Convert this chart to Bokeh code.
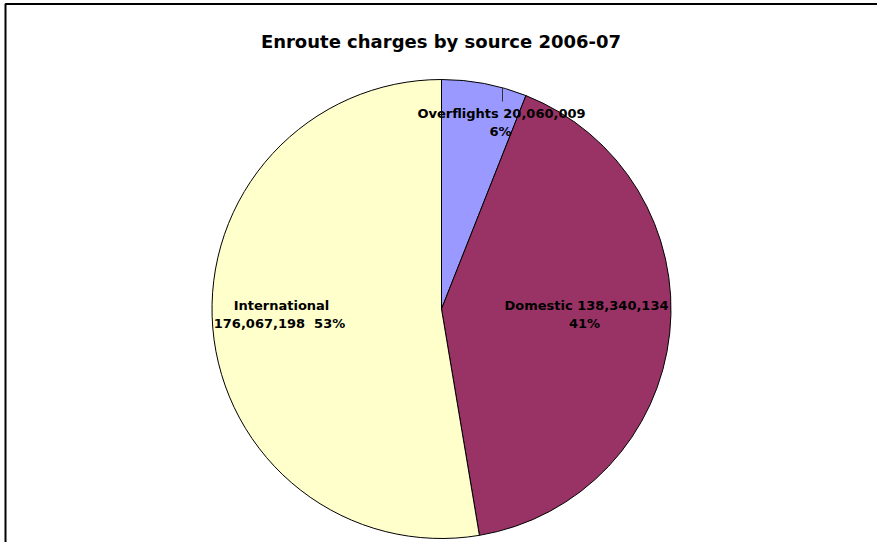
import math
from bokeh.plotting import figure
from bokeh.models import Range1d, ColumnDataSource
from bokeh.core.properties import value
from bokeh.embed import file_html
from bokeh.resources import INLINE

# ---- data ----
categories = ["Overflights", "Domestic", "International"]
amounts = [20060009, 138340134, 176067198]
colors = ["#9999FF", "#993366", "#FFFFCC"]
title_text = "Enroute charges by source 2006-07"

W, H = 877, 542
p = figure(width=W, height=H, output_backend="svg", toolbar_location=None,
           x_range=Range1d(0, W), y_range=Range1d(0, H),
           x_axis_location=None, y_axis_location=None, min_border=0)
p.grid.visible = False
p.outline_line_color = None
p.background_fill_color = "white"
p.border_fill_color = "white"

def Y(py):
    return H - py

cx, cy, r = 441, Y(308.5), 229.5
total = float(sum(amounts))
fr = [a / total for a in amounts]
cum = [0.0]
for f in fr:
    cum.append(cum[-1] + f)
starts = [math.pi / 2 - 2 * math.pi * cum[i + 1] for i in range(len(fr))]
ends = [math.pi / 2 - 2 * math.pi * cum[i] for i in range(len(fr))]

src = ColumnDataSource(dict(x=[cx] * 3, y=[cy] * 3, s=starts, e=ends, c=colors))
p.wedge(x="x", y="y", radius=r, start_angle="s", end_angle="e",
        fill_color="c", line_color="black", line_width=1, source=src)

# leader line for overflights
lx = 502
ly_top = cy + math.sqrt(r * r - (lx - cx) ** 2)
p.segment(x0=[lx], y0=[ly_top], x1=[lx], y1=[Y(101)], line_color="#333333", line_width=1)

def fmt(v):
    return f"{v:,}"

pct = [f"{round(f * 100)}%" for f in fr]
nb = "\u00a0"
labels = [
    [(f"{categories[0]} {fmt(amounts[0])}", 501, 113), (pct[0], 500, 131)],
    [(f"{categories[1]} {fmt(amounts[1])}", 586, 305), (pct[1], 584, 323)],
    [(categories[2], 281, 305), (f"{fmt(amounts[2])}{nb}{nb}{pct[2]}", 279, 323)],
]
for grp in labels:
    for t, x, y in grp:
        p.text(x=[x], y=[Y(y)], text=[t], text_align="center", text_baseline="middle",
               text_font=value("DejaVu Sans"), text_font_style="bold",
               text_font_size="13px", text_color="black")

p.text(x=[440.5], y=[Y(41)], text=[title_text], text_align="center", text_baseline="middle",
       text_font=value("DejaVu Sans"), text_font_style="bold", text_font_size="18px",
       text_color="black")

# chart area border (top and left edges)
p.line(x=[5, 5, W + 5], y=[-5, Y(3.5), Y(3.5)], line_color="black", line_width=2)

open("out.html", "w").write(file_html(p, INLINE))
